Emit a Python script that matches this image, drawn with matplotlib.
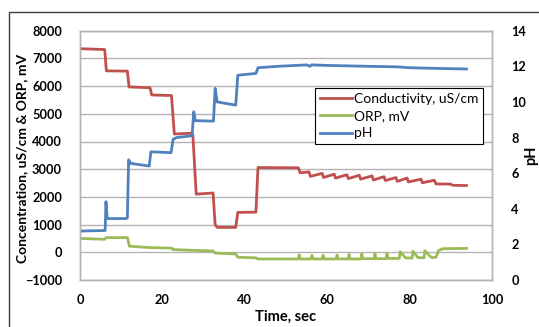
import matplotlib
matplotlib.use("Agg")
import matplotlib.pyplot as plt
from matplotlib.patches import Rectangle

# ---------------- data ----------------
cond_t = [0, 6.0, 6.4, 11.5, 11.9, 17.0, 17.4, 22.2, 22.9, 27.0, 27.4, 28.2, 32.3, 32.8, 33.3,
          37.8, 38.3, 42.7, 43.2, 53.0, 53.4, 55.6, 55.9, 58.8, 59.1, 61.7, 62.0, 64.8, 65.1,
          67.8, 68.1, 70.9, 71.2, 73.8, 74.1, 76.7, 77.0, 79.4, 79.7, 82.8, 83.1, 86.0, 86.4,
          90.0, 90.4, 93.8]
cond_v = [7350, 7320, 6550, 6540, 5970, 5940, 5680, 5660, 4270, 4300, 4230, 2100, 2140, 1000, 900,
          900, 1440, 1450, 3060, 3050, 2870, 2900, 2740, 2850, 2700, 2820, 2680, 2800, 2660,
          2780, 2640, 2760, 2610, 2730, 2590, 2700, 2560, 2680, 2540, 2640, 2510, 2600, 2470,
          2460, 2420, 2410]

orp_t = [0, 6.0, 6.3, 11.5, 12.0, 17.0, 22.2, 22.6, 27.5, 32.3, 32.8, 37.8, 38.3, 42.7, 43.1,
         53.0, 53.2, 53.4, 56.1, 56.3, 56.5, 58.8, 59.0, 59.2, 62.2, 62.4, 62.6, 65.1, 65.3, 65.5,
         68.2, 68.4, 68.6, 71.4, 71.6, 71.8, 74.3, 74.5, 74.8, 77.5, 77.7, 79.0, 80.6, 80.8, 82.0,
         83.5, 83.7, 85.0, 85.4, 86.4, 87.0, 88.0, 93.8]
orp_v = [500, 470, 530, 530, 220, 170, 150, 100, 70, 50, -30, -60, -180, -200, -240,
         -240, -90, -240, -240, -110, -240, -240, -110, -240, -240, -100, -240, -240, -80, -240,
         -240, -60, -230, -230, -40, -230, -230, -30, -220, -220, 20, -200, -210, 40, -190,
         -200, 60, -150, -190, -180, 60, 130, 140]

ph_t = [0, 6.1, 6.3, 6.6, 11.2, 11.5, 11.8, 12.3, 16.8, 17.2, 22.1, 22.6, 23.5, 27.2, 27.6,
        28.0, 32.4, 32.8, 33.3, 37.8, 38.3, 42.7, 43.2, 48.0, 55.0, 55.8, 56.2, 60.0, 70.0,
        77.0, 80.0, 87.0, 93.8]
ph_v = [2.75, 2.78, 4.4, 3.45, 3.45, 3.5, 6.75, 6.55, 6.4, 7.2, 7.15, 7.9, 8.0, 8.1, 9.45,
        8.95, 8.92, 10.76, 10.0, 9.82, 11.5, 11.6, 11.92, 12.0, 12.08, 12.0, 12.08, 12.05, 12.0,
        11.97, 11.92, 11.88, 11.85]

labels = ["Conductivity, uS/cm", "ORP, mV", "pH"]
left_ticks = list(range(-1000, 8001, 1000))
right_ticks = list(range(0, 15, 2))
x_ticks = list(range(0, 101, 20))

RED, GREEN, BLUE = "#C0504D", "#9BBB59", "#4F81BD"

W, H = 539, 327
fig = plt.figure(figsize=(W / 100, H / 100), dpi=100)
plt.rcParams["font.family"] = ["Lato", "DejaVu Sans"]

ax = fig.add_axes([80 / W, 1 - 280 / H, (492 - 80) / W, (280 - 30.7) / H])
ax2 = ax.twinx()

lw = 2.0
l1, = ax.plot(cond_t, cond_v, color=RED, lw=lw)
l2, = ax.plot(orp_t, orp_v, color=GREEN, lw=lw)
l3, = ax2.plot(ph_t, ph_v, color=BLUE, lw=lw)

ax.set_xlim(0, 100)
ax.set_ylim(-1000, 8000)
ax2.set_ylim(0, 14)
ax.set_xticks(x_ticks)
ax.set_yticks(left_ticks)
ax2.set_yticks(right_ticks)

ax.grid(axis="y", color="#b3b3b3", lw=1.0)
ax.set_axisbelow(True)
for a in (ax, ax2):
    for s in a.spines.values():
        s.set_color("#b3b3b3")
        s.set_linewidth(1.0)
    a.tick_params(length=0, labelsize=9.2)
    for lab in a.get_xticklabels() + a.get_yticklabels():
        lab.set_fontweight("bold")

ax.tick_params(axis="y", pad=13)
ax.tick_params(axis="x", pad=10)
ax2.tick_params(axis="y", pad=14)

fig.text(286 / W, 1 - 317 / H, "Time, sec", fontsize=10.5, fontweight="bold",
         ha="center", va="center")
fig.text(22 / W, 1 - 158 / H, "Concentration, uS/cm & ORP, mV", fontsize=10,
         fontweight="bold", rotation=90, ha="center", va="center")
fig.text(531 / W, 1 - 155 / H, "pH", fontsize=10.5, fontweight="bold", rotation=90,
         ha="center", va="center")

leg = fig.legend([l1, l2, l3], labels, loc="upper left",
                 bbox_to_anchor=(315 / W, 1 - 88 / H), bbox_transform=fig.transFigure,
                 fancybox=False, edgecolor="black", framealpha=1, fontsize=10,
                 handlelength=2.3, handletextpad=0.15, borderpad=0.35, labelspacing=0.38,
                 borderaxespad=0)
leg.get_frame().set_linewidth(0.8)

fig.patches.append(Rectangle((9 / W, -0.1), 1.2, (H - 12) / H + 0.1, transform=fig.transFigure,
                             fill=False, edgecolor="#404040", lw=1.0, clip_on=False))

fig.savefig("out.png", dpi=100)
